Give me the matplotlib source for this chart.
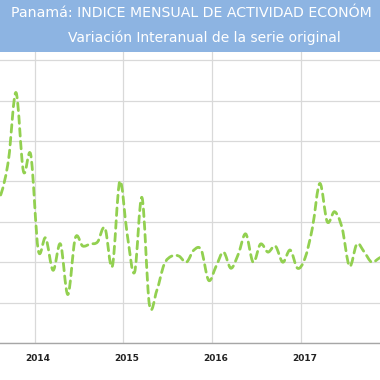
import numpy as np
import matplotlib
matplotlib.use("Agg")
import matplotlib.pyplot as plt
from matplotlib.path import Path
from matplotlib.patches import PathPatch, Rectangle

# IMAE Panamá, variación interanual (%) mensual, jul-2013 .. dic-2017
variacion = [
    6.8, 7.4, 9.1, 12.4, 8.5, 9.3,                        # 2013 (jul-dic)
    4.6, 5.2, 3.6, 4.9, 2.4, 5.2, 4.8, 4.9, 5.0, 5.7, 3.8, 8.0,  # 2014
    5.4, 3.5, 7.2, 1.9, 2.6, 3.9, 4.3, 4.3, 4.0, 4.6, 4.6, 3.1,  # 2015
    3.8, 4.5, 3.7, 4.4, 5.4, 4.0, 4.9, 4.5, 4.8, 4.0, 4.6, 3.7,  # 2016
    4.2, 5.7, 7.9, 6.0, 6.5, 5.7, 3.8, 4.9, 4.5, 4.0, 4.2, 4.4,  # 2017
]
anios = ['2014', '2015', '2016', '2017']
pos_enero = [6, 18, 30, 42]          # indice del mes de enero de cada año

# el titulo original sale cortado por el borde derecho
titulo1 = 'Panamá: INDICE MENSUAL DE ACTIVIDAD ECONÓM'
titulo2 = 'Variación Interanual de la serie original'

VERDE = '#92D050'
AZUL = '#8DB4E2'


def curva_suave(xs, ys):
    # bezier tipo Excel (catmull-rom) a traves de los puntos
    pts = np.column_stack([xs, ys])
    n = len(pts)
    verts = [pts[0]]
    codes = [Path.MOVETO]
    for i in range(n - 1):
        p0 = pts[max(i - 1, 0)]
        p1 = pts[i]
        p2 = pts[i + 1]
        p3 = pts[min(i + 2, n - 1)]
        c1 = p1 + (p2 - p0) / 6.0
        c2 = p2 - (p3 - p1) / 6.0
        verts += [c1, c2, p2]
        codes += [Path.CURVE4] * 3
    return Path(verts, codes)


fig = plt.figure(figsize=(3.8, 3.8), dpi=100)
ax = fig.add_axes([0, 37 / 380, 1, 303 / 380])

x = np.arange(len(variacion))
linea = PathPatch(curva_suave(x, variacion), facecolor='none', edgecolor=VERDE,
                  linewidth=2.0, linestyle=(0, (2.7, 1.9)), capstyle='round',
                  joinstyle='round')
ax.add_patch(linea)

ax.set_xlim(0.84, 52.12)
ax.set_ylim(0, 15)

ax.set_yticks(np.arange(0, 15, 2))
ax.set_xticks([p - 0.5 for p in pos_enero])
ax.set_xticklabels([])
ax.set_xticks(pos_enero, minor=True)
ax.set_xticklabels(anios, minor=True, fontsize=6.5, fontweight='bold', color='#222222')
ax.tick_params(which='both', length=0, labelleft=False)
ax.tick_params(which='minor', pad=8)
ax.grid(True, which='major', color='#D9D9D9', linewidth=0.9)
ax.set_axisbelow(True)
for s in ['top', 'left', 'right']:
    ax.spines[s].set_visible(False)
ax.spines['bottom'].set_color('#A6A6A6')
ax.spines['bottom'].set_linewidth(1.0)

# banda del titulo
fig.patches.append(Rectangle((0, 1 - 52 / 380), 1, 52 / 380, transform=fig.transFigure,
                             facecolor=AZUL, edgecolor='none', zorder=5))
fig.text(11 / 380, 1 - 13 / 380, titulo1, ha='left', va='center', color='white',
         fontsize=10.2, family='DejaVu Sans', zorder=6)
fig.text(204 / 380, 1 - 38 / 380, titulo2, ha='center', va='center', color='white',
         fontsize=10, family='DejaVu Sans', zorder=6)

fig.savefig('out.png', dpi=100)
